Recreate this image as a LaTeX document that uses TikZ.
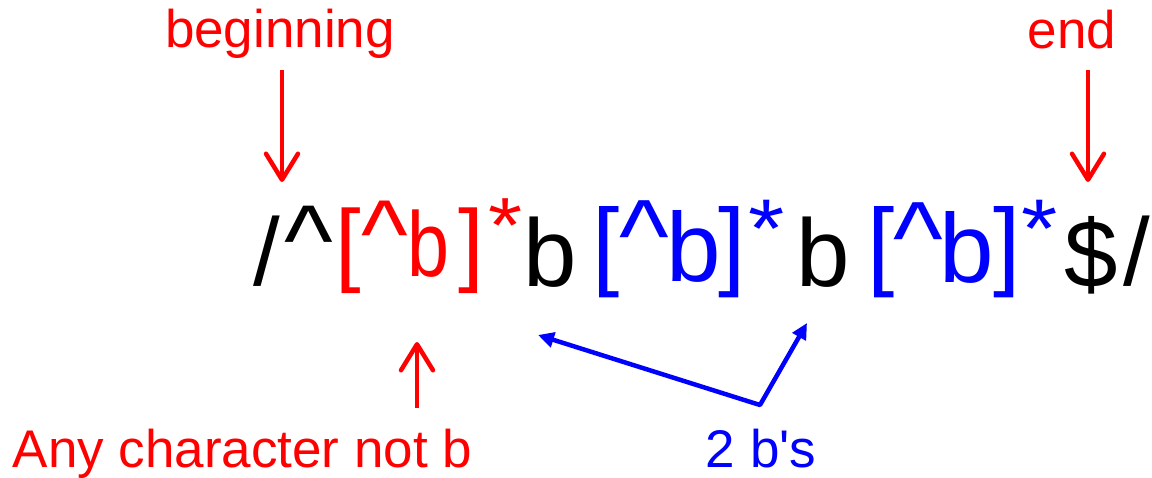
\documentclass[tikz,border=0pt]{standalone}
\usepackage{fontspec}
\setmainfont{Liberation Sans}
\usetikzlibrary{arrows.meta}
\definecolor{rred}{RGB}{255,0,0}
\definecolor{bblue}{RGB}{0,0,255}
\newcommand{\rxcrt}{\makebox[0.88\width][c]{\scalebox{1.08}[1.05]{\textasciicircum}}}
\newcommand{\rxstar}{\scalebox{0.95}[0.85]{*}}
\begin{document}
\begin{tikzpicture}[x=1pt,y=-1pt,
  glyph/.style={inner sep=0pt, outer sep=0pt, anchor=center},
  blk/.style={glyph, text=black, font=\fontsize{96}{100}\selectfont},
  redg/.style={glyph, text=rred, font=\fontsize{92}{100}\selectfont},
  blug/.style={glyph, text=bblue, font=\fontsize{98}{100}\selectfont},
  lbl/.style={anchor=base, inner sep=0pt, outer sep=0pt, font=\fontsize{53}{60}\selectfont},
  redarrow/.style={draw=rred, line width=4.5pt, -{Straight Barb[length=26pt,width=32pt,round]}},
  bluearrow/.style={draw=bblue, line width=4.5pt, line join=round,
    {Triangle[length=16pt,width=15pt]}-{Triangle[length=16pt,width=15pt]}}
]
\useasboundingbox (0,0) rectangle (1152,477);
% regex line
\node[blk] (s1) at (267,251.5) {/};
\node[blk] (c1) at (309,241) {\rxcrt};
\node[redg] (rl) at (348.5,251) {[};
\node[redg] (rc) at (384.5,234) {\rxcrt};
\node[redg] (rb) at (428.5,244) {\scalebox{0.82}[1]{b}};
\node[redg] (rr) at (471.5,251) {]};
\node[redg] (rs) at (506,226) {\rxstar};
\node[blk] (b1) at (550.5,252) {b};
\node[blug] (bl1) at (606.5,252.5) {[};
\node[blug] (bc1) at (644,236) {\rxcrt};
\node[blug] (bb1) at (694,246.5) {b};
\node[blug] (br1) at (732.5,252.5) {]};
\node[blug] (bs1) at (767,229) {\rxstar};
\node[blk] (b2) at (823.5,252) {b};
\node[blug] (bl2) at (881.5,252.5) {[};
\node[blug] (bc2) at (918,238) {\rxcrt};
\node[blug] (bb2) at (966.5,247.5) {b};
\node[blug] (br2) at (1007,252.5) {]};
\node[blug] (bs2) at (1040,229) {\rxstar};
\node[blk] (dl) at (1091,255) {\$};
\node[blk] (s2) at (1137,251.5) {/};
% labels
\node[lbl, text=rred] (beg) at (280,47) {beginning};
\node[lbl, text=rred] (endl) at (1072,48) {end};
\node[lbl, text=rred] (any) at (242.5,467) {Any character not b};
\node[lbl, text=bblue] (two) at (761,467) {2 b\textquotesingle s};
% arrow ends
\coordinate (begS) at (282,70);
\coordinate (begT) at (282,182);
\coordinate (endS) at (1088,70);
\coordinate (endT) at (1088,182);
\coordinate (anyS) at (417,408);
\coordinate (anyT) at (417,342);
\coordinate (vtx) at (760,405);
\coordinate (tipL) at (538,335);
\coordinate (tipR) at (807,323);
\draw[redarrow] (begS) -- (begT);
\draw[redarrow] (endS) -- (endT);
\draw[redarrow] (anyS) -- (anyT);
\draw[bluearrow] (tipL) -- (vtx) -- (tipR);
\end{tikzpicture}
\end{document}
